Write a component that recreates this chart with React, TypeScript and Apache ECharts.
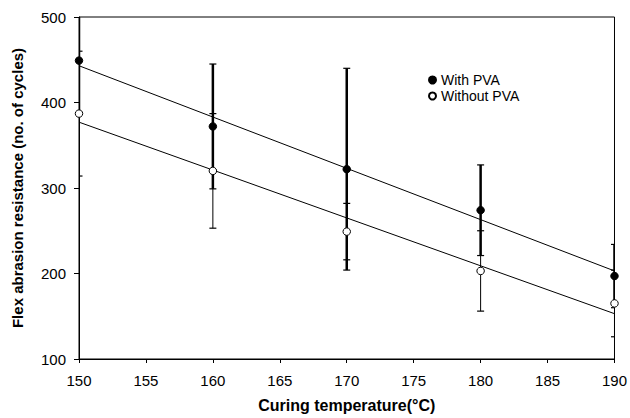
import React, { useEffect, useRef } from "react";
import * as echarts from "echarts";

const temps = [150, 160, 170, 180, 190];
const withPVA = [449, 372, 322, 274, 197];
const withPVAErr = [60, 73, 118, 53, 37];
const withoutPVA = [387, 320, 249, 203, 165];
const withoutPVAErr = [73, 67, 33, 47, 39];
const withTrend = [443, 203];
const withoutTrend = [377, 153];
const trendX = [150, 190];

function errSeries(name: string, vals: number[], errs: number[], width: number) {
  return {
    type: "custom",
    name: name + " err",
    clip: true,
    z: 2,
    data: temps.map((t, i) => [t, vals[i] - errs[i], vals[i] + errs[i]]),
    renderItem: (params: any, api: any) => {
      const x = api.value(0);
      const lo = api.coord([x, api.value(1)]);
      const hi = api.coord([x, api.value(2)]);
      const cw = 3.5;
      const st = { stroke: "#000", lineWidth: width };
      const cs = { stroke: "#000", lineWidth: 1.2 };
      return {
        type: "group",
        children: [
          { type: "line", shape: { x1: lo[0], y1: lo[1], x2: hi[0], y2: hi[1] }, style: st },
          { type: "line", shape: { x1: lo[0] - cw, y1: lo[1], x2: lo[0] + cw, y2: lo[1] }, style: cs },
          { type: "line", shape: { x1: hi[0] - cw, y1: hi[1], x2: hi[0] + cw, y2: hi[1] }, style: cs },
        ],
      };
    },
  };
}

export default function App() {
  const ref = useRef<HTMLDivElement>(null);
  useEffect(() => {
    const chart = echarts.init(ref.current!, null, { renderer: "svg" });
    const font = "Liberation Sans, Arial, sans-serif";
    chart.setOption({
      animation: false,
      backgroundColor: "#fff",
      grid: { left: 79, top: 17, right: 14, bottom: 58, show: true, borderColor: "#000", borderWidth: 1 },
      legend: {
        orient: "vertical",
        left: 423,
        top: 68,
        itemWidth: 7,
        itemHeight: 7,
        itemGap: 2,
        textStyle: { fontFamily: font, fontSize: 14, lineHeight: 14, color: "#000", padding: [0, 0, 0, 0] },
        data: [
          { name: "With PVA", icon: "circle" },
          { name: "Without PVA", icon: "circle" },
        ],
      },
      xAxis: {
        type: "value",
        min: 150,
        max: 190,
        interval: 5,
        name: "Curing temperature(°C)",
        nameLocation: "middle",
        nameGap: 38,
        nameTextStyle: { fontFamily: font, fontSize: 16, fontWeight: "bold", color: "#000" },
        axisLine: { lineStyle: { color: "#000", width: 1 } },
        axisTick: { show: true, length: 4, lineStyle: { color: "#000" } },
        axisLabel: { fontFamily: font, fontSize: 15, color: "#000", margin: 14 },
        splitLine: { show: false },
      },
      yAxis: {
        type: "value",
        min: 100,
        max: 500,
        interval: 100,
        name: "Flex abrasion resistance (no. of cycles)",
        nameLocation: "middle",
        nameGap: 54,
        nameTextStyle: { fontFamily: font, fontSize: 15, fontWeight: "bold", color: "#000" },
        axisLine: { show: true, lineStyle: { color: "#000", width: 1 } },
        axisTick: { show: true, length: 5, lineStyle: { color: "#000" } },
        axisLabel: { fontFamily: font, fontSize: 15, color: "#000", margin: 13 },
        splitLine: { show: false },
      },
      series: [
        errSeries("With PVA", withPVA, withPVAErr, 2.5),
        errSeries("Without PVA", withoutPVA, withoutPVAErr, 1),
        {
          type: "line",
          name: "With trend",
          data: trendX.map((x, i) => [x, withTrend[i]]),
          symbol: "none",
          z: 3,
          lineStyle: { color: "#000", width: 1 },
        },
        {
          type: "line",
          name: "Without trend",
          data: trendX.map((x, i) => [x, withoutTrend[i]]),
          symbol: "none",
          z: 3,
          lineStyle: { color: "#000", width: 1 },
        },
        {
          type: "scatter",
          name: "With PVA",
          data: temps.map((t, i) => [t, withPVA[i]]),
          symbol: "circle",
          symbolSize: 7.5,
          z: 5,
          itemStyle: { color: "#000", borderColor: "#000", borderWidth: 1, opacity: 1 },
        },
        {
          type: "scatter",
          name: "Without PVA",
          data: temps.map((t, i) => [t, withoutPVA[i]]),
          symbol: "circle",
          symbolSize: 7.5,
          z: 5,
          itemStyle: { color: "#fff", borderColor: "#000", borderWidth: 1, opacity: 1 },
        },
      ],
    });
    return () => chart.dispose();
  }, []);
  return <div ref={ref} style={{ width: 630, height: 418, position: "absolute", left: 0, top: 0 }} />;
}
